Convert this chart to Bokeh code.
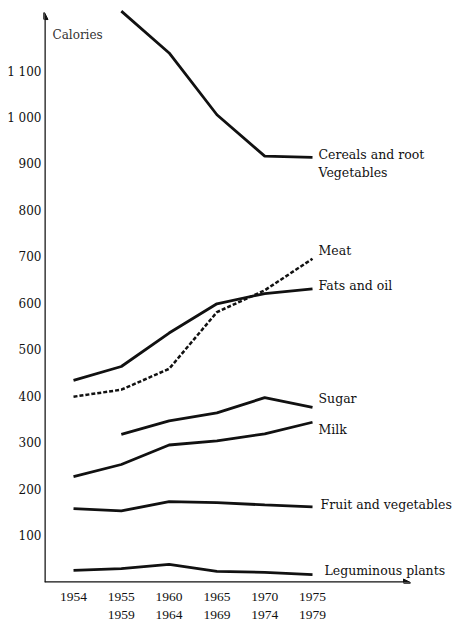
from bokeh.plotting import figure
from bokeh.models import ColumnDataSource, FixedTicker, Arrow, NormalHead, Label
from bokeh.core.properties import value
from bokeh.embed import file_html
from bokeh.resources import INLINE

periods = ["1954", "1955\n1959", "1960\n1964", "1965\n1969", "1970\n1974", "1975\n1979"]
idx = list(range(len(periods)))

cereals = [None, 1230, 1140, 1007, 918, 915]
meat = [400, 415, 460, 582, 629, 697]
fats = [435, 465, 537, 600, 622, 632]
sugar = [None, 319, 348, 365, 398, 377]
milk = [228, 254, 296, 305, 320, 345]
fruit = [159, 154, 174, 172, 167, 163]
legum = [26, 30, 39, 24, 22, 17]

y_ticks = [100, 200, 300, 400, 500, 600, 700, 800, 900, 1000, 1100]
y_tick_labels = {1000: "1 000", 1100: "1 100"}

label_names = ["Cereals and root", "Vegetables", "Meat", "Fats and oil", "Sugar", "Milk",
               "Fruit and vegetables", "Leguminous plants"]
label_vals = [cereals[-1], cereals[-1], meat[-1], fats[-1], sugar[-1], milk[-1], fruit[-1], legum[-1]]
label_dy = [-3, 15, -8, -3, -9, 7, -2, -4]
label_dx = [6, 6, 6, 6, 6, 6, 8, 12]

SERIF = "Liberation Serif"
WIDE = "DejaVu Serif"
X0, X1 = -0.607, 8.096
Y1 = 1240

p = figure(width=460, height=624, output_backend="svg", toolbar_location=None,
           x_range=(X0, X1), y_range=(0, Y1),
           min_border_left=44, min_border_right=0, min_border_top=6, min_border_bottom=40)
p.outline_line_color = None
p.grid.grid_line_color = None
p.background_fill_color = "white"
p.border_fill_color = "white"

def nn(vals):
    xs, ys = [], []
    for i, v in zip(idx, vals):
        if v is not None:
            xs.append(i); ys.append(v)
    return xs, ys

for series in [cereals, fats, sugar, milk, fruit, legum]:
    xs, ys = nn(series)
    p.line(xs, ys, line_color="#111111", line_width=2.8)
xs, ys = nn(meat)
p.line(xs, ys, line_color="#111111", line_width=2.5, line_dash="4 2")

src = ColumnDataSource(dict(x=[idx[-1]] * len(label_names), y=label_vals, t=label_names,
                            dx=label_dx, dy=label_dy))
p.text(x="x", y="y", text="t", x_offset="dx", y_offset="dy", source=src,
       text_font=value(WIDE), text_font_size="12.5px", text_color="#111111",
       text_baseline="middle", text_align="left")

# axes
for ax in (p.xaxis, p.yaxis):
    ax.axis_line_color = None
    ax.major_tick_line_color = None
    ax.minor_tick_line_color = None
    ax.major_tick_out = 0
    ax.major_tick_in = 0
    ax.minor_tick_out = 0
    ax.minor_tick_in = 0
    ax.major_label_text_color = "#111111"

p.yaxis.ticker = FixedTicker(ticks=y_ticks)
p.yaxis.major_label_overrides = y_tick_labels
p.yaxis.major_label_standoff = 3
p.yaxis.major_label_text_font = WIDE
p.yaxis.major_label_text_font_size = "12px"

p.xaxis.ticker = FixedTicker(ticks=idx)
p.xaxis.major_label_overrides = {i: s for i, s in zip(idx, periods)}
p.xaxis.major_label_standoff = 6
p.xaxis.major_label_text_font = SERIF
p.xaxis.major_label_text_font_size = "13.5px"
p.xaxis.major_label_text_line_height = 1.2

p.add_layout(Arrow(end=NormalHead(size=7, fill_color="#111111", line_color="#111111"),
                   x_start=X0, y_start=0, x_end=X0, y_end=1227,
                   line_width=2.5, line_color="#111111"))
p.add_layout(Arrow(end=NormalHead(size=7, fill_color="#111111", line_color="#111111"),
                   x_start=X0, y_start=0, x_end=7.05, y_end=0,
                   line_width=2.5, line_color="#111111"))

p.add_layout(Label(x=-0.44, y=1178, text="Calories", text_font=WIDE, text_font_size="12px",
                   text_color="#333333", text_baseline="middle"))

open("out.html", "w").write(file_html(p, INLINE))
